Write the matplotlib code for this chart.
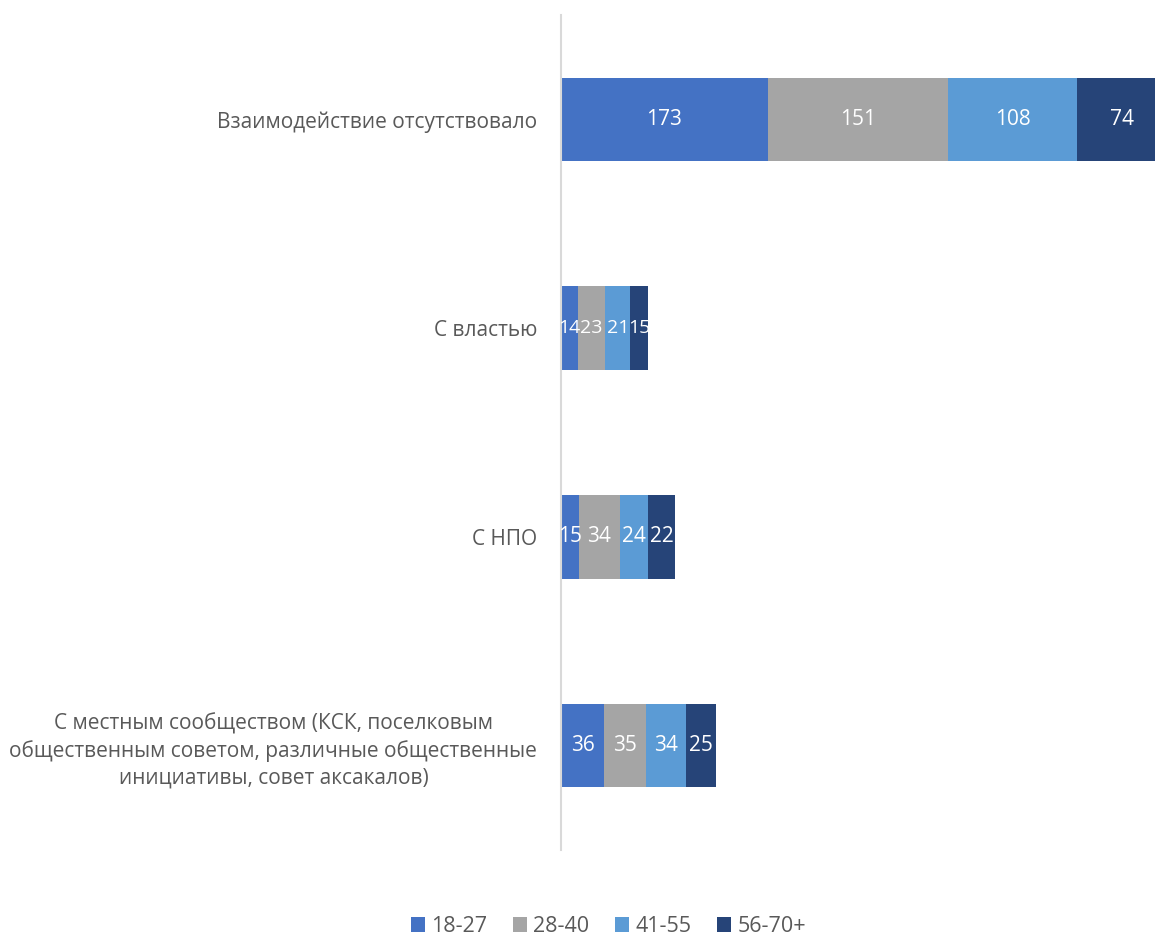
import matplotlib
matplotlib.use('Agg')
import matplotlib.pyplot as plt
import numpy as np

plt.rcParams['font.family'] = ['Open Sans', 'DejaVu Sans']

# categories from top to bottom
categories = [
    'Взаимодействие отсутствовало',
    'С властью',
    'С НПО',
    'С местным сообществом (КСК, поселковым\nобщественным советом, различные общественные\nинициативы, совет аксакалов)',
]
groups = ['18-27', '28-40', '41-55', '56-70+']
v_18_27 = [173, 14, 15, 36]
v_28_40 = [151, 23, 34, 35]
v_41_55 = [108, 21, 24, 34]
v_56_70 = [74, 15, 22, 25]
colors = ['#4472C4', '#A5A5A5', '#5B9BD5', '#264478']

series = [v_18_27, v_28_40, v_41_55, v_56_70]
totals = np.sum(series, axis=0)

fig = plt.figure(figsize=(11.55, 9.35), dpi=100)
ax = fig.add_axes([0.4857, 0.091, 0.5143, 0.893])

y = np.arange(len(categories))
left = np.zeros(len(categories))
for vals, name, col in zip(series, groups, colors):
    vals = np.array(vals, dtype=float)
    ax.barh(y, vals, left=left, height=0.4, color=col, label=name)
    for yi, l, v in zip(y, left, vals):
        # the shortest bar has labels that nearly run together
        fs = 14 if totals[yi] < 80 else 15
        ax.text(l + v / 2, yi, str(int(v)), ha='center', va='center',
                color='white', fontsize=fs)
    left += vals

ax.set_xlim(0, 497)
ax.set_ylim(3.5, -0.5)
ax.set_yticks(y)
ax.set_yticklabels(categories, fontsize=15, color='#595959',
                   multialignment='center', linespacing=1.35)
ax.tick_params(axis='y', length=0, pad=17)
ax.set_xticks([])
for s in ['top', 'right', 'bottom']:
    ax.spines[s].set_visible(False)
ax.spines['left'].set_color('#D9D9D9')
ax.spines['left'].set_linewidth(1.5)

fig.legend(loc='center', bbox_to_anchor=(0.527, 0.009), ncol=4, frameon=False,
           fontsize=15.5, handlelength=0.65, handleheight=0.65, handletextpad=0.28,
           columnspacing=1.2, labelcolor='#595959')

fig.savefig('out.png', dpi=100)
